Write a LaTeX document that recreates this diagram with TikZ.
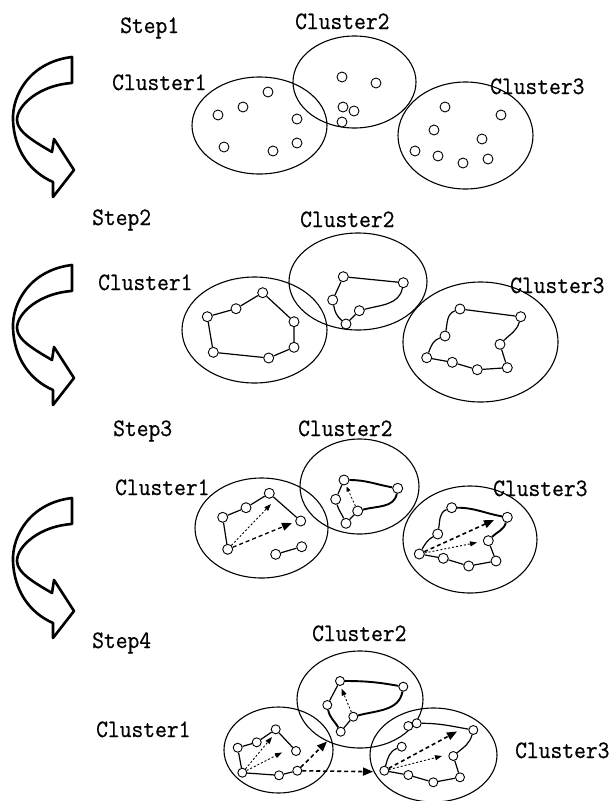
\documentclass[tikz,border=0pt]{standalone}
\usepackage{fontspec}
\newfontfamily\labfont{lmmono12-regular.otf}[FakeStretch=0.915, FakeBold=0.6]
\usetikzlibrary{arrows.meta}
\begin{document}
\begin{tikzpicture}[x=1pt,y=-1pt,
  lab/.style={anchor=base west, inner sep=0pt, font=\labfont\fontsize{25}{25}\selectfont},
  blob/.style={line width=1.1pt},
  pt/.style={circle, draw, fill=white, minimum size=10pt, inner sep=0pt, line width=0.9pt},
  spt/.style={pt, minimum size=9pt},
  edge/.style={line width=1.2pt},
  bold/.style={line width=1.9pt},
  bigdash/.style={line width=1.6pt, dash pattern=on 4pt off 3pt, -{Triangle[length=10pt,width=8pt]}},
  smalldash/.style={line width=0.9pt, dash pattern=on 2pt off 2pt, -{Triangle[length=7pt,width=5pt]}},
  turn/.style={line width=2.6pt, line join=round, fill=white}
]
\useasboundingbox (0,0) rectangle (611,801);

% curved step arrows on the left
\foreach \dy in {0,208,441}{
  \begin{scope}[shift={(0,\dy)}]
    \draw[turn] (72,57) .. controls (30,62) and (12,95) .. (13,120)
      .. controls (14,150) and (30,172) .. (53,182)
      -- (53,197) -- (74,170) -- (54,139) -- (52,152)
      .. controls (35,142) and (17,132) .. (17,120)
      .. controls (17,105) and (40,85) .. (72,83) -- cycle;
  \end{scope}
}

% ---------------- Step 1 ----------------
\node[lab] (s1) at (120,33) {Step1};
\node[lab] (s1c2) at (295,29) {Cluster2};
\node[lab] (s1c1) at (112,90) {Cluster1};
\draw[blob] (259.5,125.5) ellipse [x radius=67.5pt, y radius=48.5pt];
\draw[blob] (354.5,82) ellipse [x radius=61.5pt, y radius=46pt];
\draw[blob] (465.5,135.5) ellipse [x radius=67.5pt, y radius=53.5pt];
\node[lab] (s1c3) at (490,94) {Cluster3};
\foreach \n/\x/\y in {a1/218/115, a2/243/107, a3/268/92, a4/297/119, a5/297/143, a6/273/151, a7/224/147,
  b1/342/77, b2/376/83, b3/343/107, b4/354/111, b5/342/122,
  c1/445/107, c2/501/115, c3/434/130, c4/482/139, c5/415/151, c6/438/156, c7/463/163, c8/488/159}
  \node[pt] (A\n) at (\x,\y) {};

% ---------------- Step 2 ----------------
\node[lab] (s2) at (92,225) {Step2};
\node[lab] (s2c2) at (300,227) {Cluster2};
\node[lab] (s2c1) at (98,290) {Cluster1};
\draw[blob] (254.5,330) ellipse [x radius=72.5pt, y radius=53pt];
\draw[blob] (358,281.5) ellipse [x radius=69pt, y radius=48.5pt];
\draw[blob] (480.5,342) ellipse [x radius=77.5pt, y radius=60pt];
\node[lab] (s2c3) at (510,293) {Cluster3};
\foreach \n/\x/\y in {a1/207.3/316.7, a2/236/308.7, a3/262.7/292.7, a4/294/321.7, a5/294/347.3, a6/268.7/358, a7/213.3/352.3,
  b1/343.3/276.7, b2/403.3/282.7, b3/332.7/300, b4/359.3/310.7, b5/346/324,
  c1/460/309, c2/520.7/316.7, c3/445/336, c4/500/344.3, c5/426.7/357.7, c6/452.3/362.3, c7/477.3/369.7, c8/507.3/367.7}
  \node[pt] (B\n) at (\x,\y) {};
\draw[edge] (Ba1) -- (Ba2) -- (Ba3) -- (Ba4) -- (Ba5) -- (Ba6) -- (Ba7) -- (Ba1);
\draw[edge] (Bb1) -- (Bb2);
\draw[edge] (Bb2) to[out=-100,in=15] (Bb4);
\draw[edge] (Bb4) -- (Bb5);
\draw[edge] (Bb5) to[out=140,in=-80] (Bb3);
\draw[edge] (Bb3) -- (Bb1);
\draw[edge] (Bc1) -- (Bc2);
\draw[edge] (Bc2) to[out=-105,in=45] (Bc4);
\draw[edge] (Bc4) -- (Bc8) -- (Bc7) -- (Bc6) -- (Bc5);
\draw[edge] (Bc5) to[out=70,in=200] (Bc3);
\draw[edge] (Bc3) to[out=80,in=200] (Bc1);

% ---------------- Step 3 ----------------
\node[lab] (s3) at (113,436) {Step3};
\node[lab] (s3c2) at (298,436) {Cluster2};
\node[lab] (s3c1) at (115,495) {Cluster1};
\draw[blob] (261.5,528) ellipse [x radius=66.5pt, y radius=50pt];
\draw[blob] (359.5,486.5) ellipse [x radius=59.5pt, y radius=47.5pt];
\draw[blob] (470,539.5) ellipse [x radius=67pt, y radius=53.5pt];
\node[lab] (s3c3) at (493,496) {Cluster3};
\foreach \n/\x/\y in {a1/222.7/517.3, a2/246/507.7, a3/269.3/493.3, a4/300.7/521, a5/301.7/546.7, a6/275.7/554.3, a7/227.7/549.3,
  b1/344/480, b2/397.7/488.3, b3/335.7/499.3, b4/357.7/511, b5/346/523.3,
  c1/451.7/507.7, c2/507.3/517.3, c3/437.7/534, c4/488.3/540.7, c5/419.3/554, c6/443.3/558.3, c7/468.7/566, c8/496/561}
  \node[pt] (C\n) at (\x,\y) {};
\coordinate (Cq1) at (271,504);
\coordinate (Cq2) at (292,523);
\coordinate (Cq3) at (346.5,486.5);
\coordinate (Cq4) at (494,520);
\coordinate (Cq5) at (477,542.5);
\draw[edge] (Ca1) -- (Ca2) -- (Ca3) -- (Ca4);
\draw[edge] (Ca5) -- (Ca6);
\draw[edge] (Ca7) -- (Ca1);
\draw[smalldash] (Ca7) -- (Cq1);
\draw[bigdash, line width=1.3pt] (Ca7) -- (Cq2);
\draw[bold] (Cb1) to[out=0,in=170] (Cb2);
\draw[bold] (Cb2) to[out=-100,in=15] (Cb4);
\draw[edge] (Cb4) -- (Cb5);
\draw[edge] (Cb5) to[out=115,in=-75] (Cb3);
\draw[edge] (Cb3) -- (Cb1);
\draw[smalldash, line width=0.8pt, -{Triangle[length=5pt,width=4pt]}] (Cb4) -- (Cq3);
\draw[bold] (Cc1) to[out=0,in=170] (Cc2);
\draw[bold] (Cc2) to[out=-105,in=45] (Cc4);
\draw[edge] (Cc4) -- (Cc8) -- (Cc7) -- (Cc6) -- (Cc5);
\draw[edge] (Cc5) to[out=60,in=210] (Cc3);
\draw[edge] (Cc3) to[out=80,in=200] (Cc1);
\draw[bigdash] (Cc5) -- (Cq4);
\draw[smalldash] (Cc5) -- (Cq5);

% ---------------- Step 4 ----------------
\node[lab] (s4) at (92,648) {Step4};
\node[lab] (s4c2) at (312,641) {Cluster2};
\node[lab] (s4c1) at (96,737) {Cluster1};
\node[lab] (s4c3) at (515,758) {Cluster3};
\draw[blob] (278.5,750) ellipse [x radius=54.5pt, y radius=43pt];
\draw[blob] (360,699.5) ellipse [x radius=63pt, y radius=48.5pt];
\draw[blob] (433.5,755) ellipse [x radius=63.5pt, y radius=47pt];
\foreach \n/\x/\y in {a1/237.7/747.7, a2/256.7/742.3, a3/275.7/729.3, a4/296/751, a5/297.3/770.7, a6/279/775.3, a7/242.3/772.7,
  b1/340/681, b2/403.3/686.7, b3/327.3/705, b4/353.3/716.7, b5/340.7/731.7,
  c1/408.3/726, c2/416.7/723.3, c3/473.3/730, c4/401.7/746.7, c5/453.3/756, c6/384.3/770.7, c7/408.3/775, c8/433.3/782.3, c9/460/777.3}
  \node[spt] (D\n) at (\x,\y) {};
\coordinate (Dq1) at (272,737);
\coordinate (Dq2) at (282,752.5);
\coordinate (Dq3) at (327,741.5);
\coordinate (Dq4) at (373,771.7);
\coordinate (Dq5) at (341.5,688.5);
\coordinate (Dq6) at (457,731.5);
\coordinate (Dq7) at (442,756);
\draw[edge] (Da1) -- (Da2) -- (Da3) -- (Da4);
\draw[edge] (Da5) -- (Da6) -- (Da7) -- (Da1);
\draw[smalldash] (Da7) -- (Dq1);
\draw[smalldash] (Da7) -- (Dq2);
\draw[bigdash] (Da5) -- (Dq3);
\draw[bigdash] (Da5) -- (Dq4);
\draw[bold] (Db1) to[out=0,in=170] (Db2);
\draw[bold] (Db2) to[out=-100,in=15] (Db4);
\draw[edge] (Db4) -- (Db5);
\draw[bold] (Db5) to[out=120,in=-80] (Db3);
\draw[edge] (Db3) -- (Db1);
\draw[smalldash] (Db4) -- (Dq5);
\draw[edge] (Dc2) to[out=0,in=170] (Dc3);
\draw[edge] (Dc3) to[out=-105,in=40] (Dc5);
\draw[edge] (Dc5) -- (Dc9) -- (Dc8) -- (Dc7) -- (Dc6);
\draw[edge] (Dc6) to[out=75,in=200] (Dc4);
\draw[bigdash] (Dc6) -- (Dq6);
\draw[smalldash] (Dc6) -- (Dq7);
\end{tikzpicture}
\end{document}
